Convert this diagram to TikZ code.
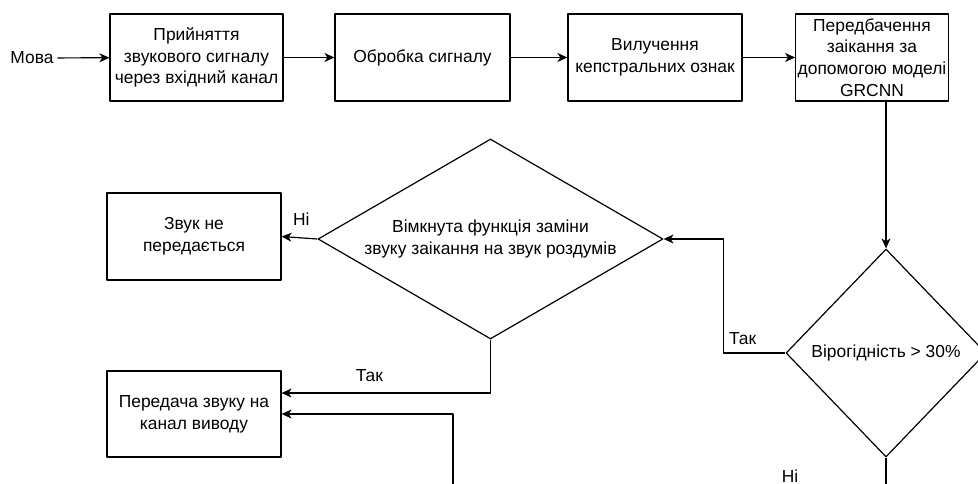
\documentclass[tikz,border=0pt]{standalone}
\usepackage{fontspec}
\setmainfont{Liberation Sans}
\usetikzlibrary{shapes.geometric,arrows.meta}
\begin{document}
\begin{tikzpicture}[x=1pt, y=-1pt, line join=round, line width=1.2pt, >={Stealth[length=10pt,width=9pt,inset=3pt]}, font=\fontsize{17.4}{21.7}\selectfont,
	blok/.style={draw, align=center, inner sep=2pt, minimum height=87pt},
	romb/.style={draw, diamond, align=center, inner sep=0pt}]
	\useasboundingbox (0,0) rectangle (978,484);
	\clip (0,0) rectangle (978,484);
	
	\node (mova) at (32,58) {Мова};
	\node[blok, minimum width=173pt] (pryiom) at (196.5,57.5) {Прийняття\\звукового сигналу\\через вхідний канал};
	\node[blok, minimum width=175pt] (obrobka) at (422.5,57.5) {Обробка сигналу};
	\node[blok, minimum width=174pt] (vyluch) at (655,57.5) {Вилучення\\кепстральних ознак};
	\node[blok, minimum width=144pt] (prognoz) at (872,57.5) {Передбачення\\заікання за\\допомогою моделі\\GRCNN};
	\node[romb, minimum width=200pt, minimum height=208pt] (imovirn) at (886,353) {Вірогідність > 30\%};
	\node[romb, shape aspect=1.72, minimum width=345pt, minimum height=200pt] (zamina) at (490.5,239) {Вімкнута функція заміни\\звуку заікання на звук роздумів};
	\node[blok, minimum width=174pt] (nepered) at (194,236.5) {Звук не\\передається};
	\node[blok, minimum width=174pt, minimum height=86pt] (peredacha) at (194,414) {Передача звуку на\\канал виводу};
	\node (ni2) at (790,476) {Ні};
	\coordinate (obkhid) at (453,520);
	
	\foreach \a/\b in {mova/pryiom, pryiom/obrobka, obrobka/vyluch, vyluch/prognoz}
	\draw[->] (\a) -- (\b);
	
	\draw[->] (prognoz.south -| imovirn.north) -- (imovirn.north);
	\draw[->] (imovirn.west) -- node[above=4pt, pos=0.69]{Так} ++(-62,0) |- (zamina.east);
	\draw[->] (zamina.west) -- node[above=8pt, pos=0.45]{Ні} (nepered.east);
	\draw[->] (zamina.south) |- node[above=7pt, pos=0.79]{Так} ([yshift=21pt]peredacha.east);
	\draw[->] (imovirn.south) |- (obkhid) |- (peredacha.east);
\end{tikzpicture}
\end{document}
